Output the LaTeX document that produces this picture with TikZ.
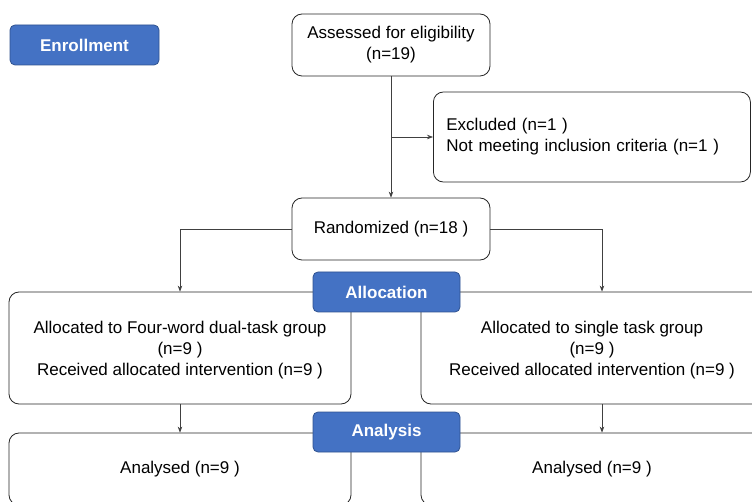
\documentclass[tikz,border=0pt]{standalone}
\usepackage{fontspec}
\setmainfont{Liberation Sans}
\usepackage{xcolor}
\usetikzlibrary{arrows.meta}
\definecolor{hdrblue}{HTML}{4472C4}
\definecolor{hdredge}{HTML}{2F528F}

\begin{document}
\begin{tikzpicture}[x=1pt,y=-1pt,
    box/.style={draw=black!85,line width=0.8pt,rounded corners=10pt,fill=white,
        align=center,inner sep=0pt,font=\fontsize{17}{21}\selectfont},
    hdr/.style={draw=hdredge,line width=0.8pt,rounded corners=5pt,fill=hdrblue,
        text=white,inner sep=0pt,minimum width=147pt,minimum height=40pt,
        font=\fontsize{17}{21}\selectfont\bfseries},
    arr/.style={draw=black!75,line width=0.7pt,-{Stealth[length=6pt,width=4.5pt]}}]
    \useasboundingbox (0,0) rectangle (752,502);
    \clip (0,0) rectangle (752,502);
    \node[box,minimum width=198pt,minimum height=62pt] (assess) at (391,45) {Assessed for eligibility\\(n=19)};
    \node[box,anchor=west,text width=291pt,inner xsep=13pt,minimum height=90pt,align=left] (excl) at (433,137)
        {Excluded (n=1 )\\Not meeting inclusion criteria (n=1 )};
    \node[box,minimum width=198pt,minimum height=62pt] (rand) at (391,229) {Randomized (n=18 )};
    \node[box,minimum width=342pt,minimum height=112pt,text depth=-3pt] (lalloc) at (180,348)
        {Allocated to Four-word dual-task group\\(n=9 )\\Received allocated intervention (n=9 )};
    \node[box,minimum width=342pt,minimum height=112pt,text depth=-3pt] (ralloc) at (592,348)
        {Allocated to single task group\\(n=9 )\\Received allocated intervention (n=9 )};
    \node[box,minimum width=342pt,minimum height=72pt] (lana) at (180,469) {Analysed (n=9 )};
    \node[box,minimum width=342pt,minimum height=72pt] (rana) at (592,469) {Analysed (n=9 )};
    \node[hdr,minimum width=149pt] (enrol) at (84.5,45) {Enrollment};
    \node[hdr] (alloc) at (386.5,292) {Allocation};
    \node[hdr] (anal) at (386.5,432) {Analysis};
    \coordinate (rtop) at ([xshift=10pt]ralloc.north);
    \coordinate (rbot) at ([xshift=10pt]ralloc.south);
    \draw[arr] (assess.south) -- (rand.north);
    \draw[arr] (assess.south |- excl.west) -- (excl.west);
    \draw[arr] (rand.west) -| (lalloc.north);
    \draw[arr] (rand.east) -| (rtop);
    \draw[arr] (lalloc.south) -- (lana.north);
    \draw[arr] (rbot) -- (rbot |- rana.north);
\end{tikzpicture}
\end{document}
